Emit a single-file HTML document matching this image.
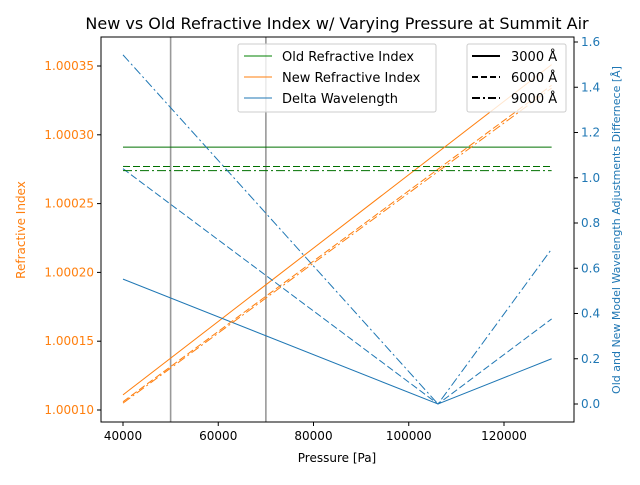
<!DOCTYPE html>
<html><head><meta charset="utf-8"><style>
body{margin:0;background:#fff}
svg text{font-family:"DejaVu Sans","Liberation Sans",sans-serif}
</style></head><body>
<svg id="chart" width="640" height="480">
<rect width="640" height="480" fill="#fff"/>
<text x="337" y="29" font-size="16" text-anchor="middle">New vs Old Refractive Index w/ Varying Pressure at Summit Air</text>
<defs><clipPath id="pc"><rect x="101" y="37" width="473" height="385"/></clipPath></defs>
<g id="marks" clip-path="url(#pc)"></g>
<rect x="101" y="37" width="473" height="385" fill="none" stroke="#000" stroke-width="1"/>
<g id="axes"></g>
<text x="337" y="462" font-size="12" text-anchor="middle">Pressure [Pa]</text>
<text transform="translate(25,230) rotate(-90)" font-size="12" text-anchor="middle" fill="#ff7f0e">Refractive Index</text>
<text transform="translate(620,230) rotate(-90)" font-size="11" text-anchor="middle" fill="#1f77b4">Old and New Model Wavelength Adjustments Differnece [Å]</text>
<g>
<rect x="238" y="44" width="198" height="68" fill="#fff" fill-opacity="0.8" stroke="#ccc" rx="2"/>
<line x1="244" y1="56" x2="272" y2="56" stroke="#008000"/><text x="282" y="61" font-size="13">Old Refractive Index</text>
<line x1="244" y1="77" x2="272" y2="77" stroke="#ff7f0e"/><text x="282" y="82" font-size="13">New Refractive Index</text>
<line x1="244" y1="98" x2="272" y2="98" stroke="#1f77b4"/><text x="282" y="103" font-size="13">Delta Wavelength</text>
</g>
<g>
<rect x="467" y="44" width="99" height="68" fill="#fff" fill-opacity="0.8" stroke="#ccc" rx="2"/>
<line x1="472" y1="56" x2="500" y2="56" stroke="#000" stroke-width="2"/><text x="511" y="61" font-size="13">3000 Å</text>
<line x1="472" y1="77" x2="500" y2="77" stroke="#000" stroke-width="2" stroke-dasharray="6,3"/><text x="511" y="82" font-size="13">6000 Å</text>
<line x1="472" y1="98" x2="500" y2="98" stroke="#000" stroke-width="2" stroke-dasharray="8,3,2,3"/><text x="511" y="103" font-size="13">9000 Å</text>
</g>
</svg>
<script>
const xTicks=[40000,60000,80000,100000,120000];
const leftTicks=[1.00010,1.00015,1.00020,1.00025,1.00030,1.00035];
const rightTicks=[0.0,0.2,0.4,0.6,0.8,1.0,1.2,1.4,1.6];
const wavelengths=["3000","6000","9000"];
const pressures=[40000,130000];
const oldIndex=[1.000291,1.000277,1.000274];
const newIndexStart=[1.000111,1.000106,1.000105];
const newIndexEnd=[1.000351,1.000336,1.000334];
const deltaPressures=[40000,106140,130000];
const delta3000=[0.552,0.0,0.2];
const delta6000=[1.04,0.0,0.376];
const delta9000=[1.543,0.0,0.685];
const markerPressures=[50000,70000];
const dashes=["","7,3","9,3,2,3"];
const X=p=>123+(p-40000)*95.25/20000;
const YL=v=>410-(v-1.0001)/0.00005*68.8;
const YR=d=>404-d*226.25;
const NS="http://www.w3.org/2000/svg";
const marks=document.getElementById('marks'),axes=document.getElementById('axes');
function mk(tag,attrs,parent){const e=document.createElementNS(NS,tag);for(const k in attrs)e.setAttribute(k,attrs[k]);parent.appendChild(e);return e;}
markerPressures.forEach(p=>{
 const l=mk('line',{x1:X(p),x2:X(p),y1:37,y2:422,stroke:'#999','stroke-width':1.6},marks);
 
 
});
const deltas=[delta3000,delta6000,delta9000];
wavelengths.forEach((w,i)=>{
 const o=mk('line',{x1:X(pressures[0]),x2:X(pressures[1]),y1:YL(oldIndex[i]),y2:YL(oldIndex[i]),stroke:'#007000','stroke-width':1,'stroke-dasharray':dashes[i]},marks);
 
 
 const n=mk('line',{x1:X(pressures[0]),x2:X(pressures[1]),y1:YL(newIndexStart[i]),y2:YL(newIndexEnd[i]),stroke:'#ff7f0e','stroke-width':1,'stroke-dasharray':dashes[i]},marks);
 
 
 const pts=deltaPressures.map((p,j)=>X(p)+','+YR(deltas[i][j])).join(' ');
 const d=mk('polyline',{points:pts,fill:'none',stroke:'#1f77b4','stroke-width':1,'stroke-dasharray':dashes[i]},marks);
 
 
});
xTicks.forEach(t=>{
 mk('line',{x1:X(t),x2:X(t),y1:422,y2:426,stroke:'#000'},axes);
 const tx=mk('text',{x:X(t),y:440,'font-size':12,'text-anchor':'middle'},axes);tx.textContent=t;
 
 
});
leftTicks.forEach(t=>{
 mk('line',{x1:97,x2:101,y1:YL(t),y2:YL(t),stroke:'#000'},axes);
 const tx=mk('text',{x:94,y:YL(t)+4,'font-size':12,'text-anchor':'end',fill:'#ff7f0e'},axes);tx.textContent=t.toFixed(5);
 
 
});
rightTicks.forEach(t=>{
 mk('line',{x1:574,x2:578,y1:YR(t),y2:YR(t),stroke:'#000'},axes);
 const tx=mk('text',{x:581,y:YR(t)+4,'font-size':12,fill:'#1f77b4'},axes);tx.textContent=t.toFixed(1);
 
 
});
</script>
</body></html>
